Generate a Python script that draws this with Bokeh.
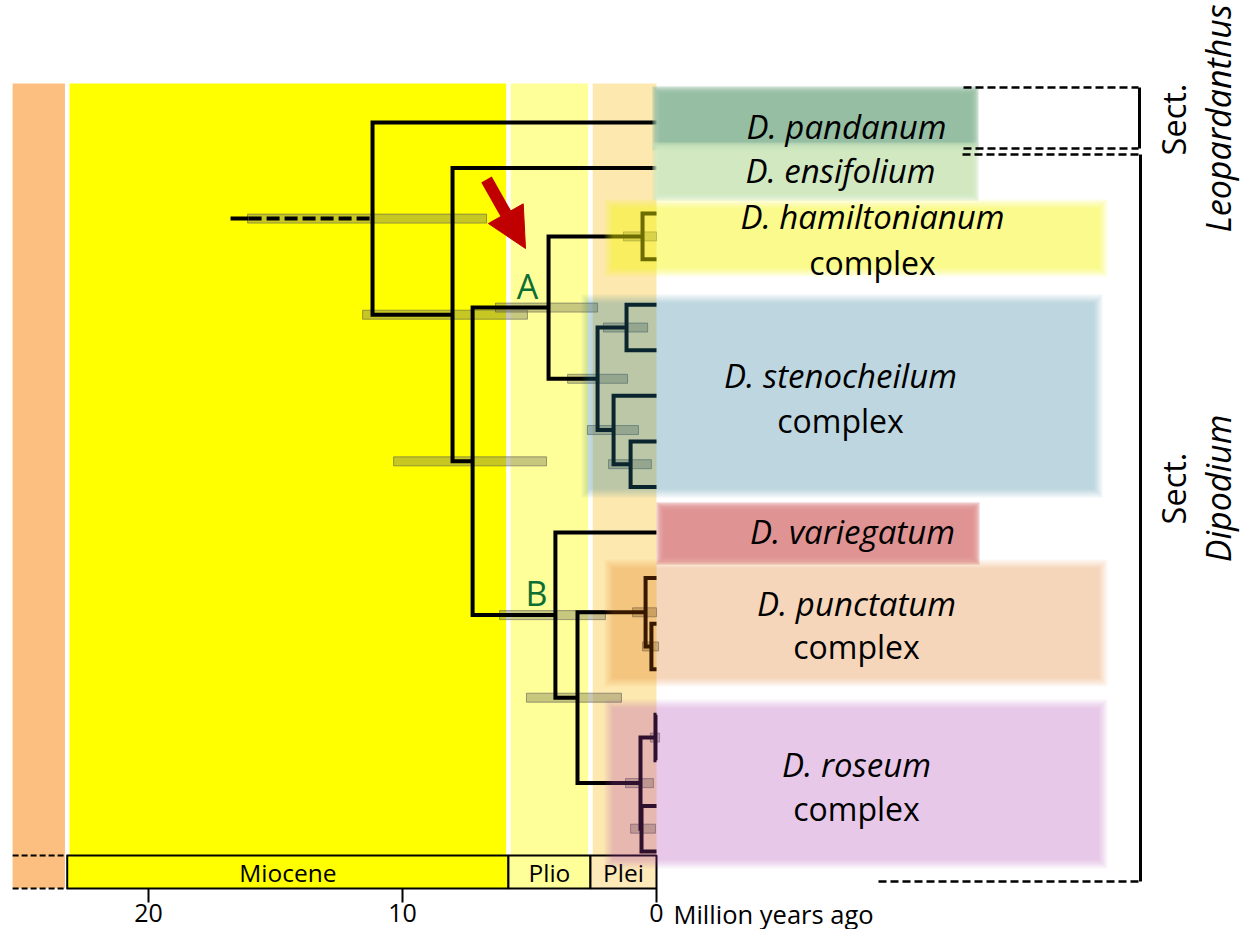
import math
import numpy as np
from bokeh.plotting import figure
from bokeh.models import Range1d, FixedTicker, Arrow, NormalHead, LinearAxis
from bokeh.core.properties import value
from bokeh.embed import file_html
from bokeh.resources import INLINE

# ---------------- data ----------------
epoch_names = ["Miocene", "Plio", "Plei"]
epoch_start = [23.2, 5.83, 2.6]      # Ma
epoch_end = [5.83, 2.6, 0.0]
oligocene_start = 25.35
axis_ticks = [0, 10, 20]

tip_names = ["pandanum", "ensifolium", "ham1", "ham2", "st1", "st2", "st3", "st4", "st5",
             "variegatum", "pu1", "pu2", "pu3", "ro1", "ro2", "ro3", "ro4"]
node_names = ["root", "N1", "N2", "A", "Ham", "Steno", "S1", "S2", "S3",
              "B", "PR", "Pu", "PuS", "Ro", "RoA", "RoB"]
node_children = [("pandanum", "N1"), ("ensifolium", "N2"), ("A", "B"), ("Ham", "Steno"),
                 ("ham1", "ham2"), ("S1", "S2"), ("st1", "st2"), ("st3", "S3"), ("st4", "st5"),
                 ("variegatum", "PR"), ("Pu", "Ro"), ("pu1", "PuS"), ("pu2", "pu3"),
                 ("RoA", "RoB"), ("ro1", "ro2"), ("ro3", "ro4")]
node_age = [11.18, 8.03, 7.24, 4.25, 0.55, 2.32, 1.18, 1.69, 1.02,
            3.98, 3.11, 0.43, 0.20, 0.63, 0.04, 0.59]
hpd_old = [16.10, 11.57, 10.35, 6.34, 1.30, 3.50, 2.09, 2.72, 1.89,
           6.18, 5.12, 0.94, 0.55, 1.22, 0.24, 1.02]
hpd_young = [6.69, 5.08, 4.33, 2.32, 0.0, 1.14, 0.35, 0.71, 0.20,
             2.01, 1.38, 0.0, -0.08, 0.12, -0.12, 0.04]
root_stem_age = 16.77
root_stem_solid_to = 16.06

clade_line1 = ["D. pandanum", "D. ensifolium", "D. hamiltonianum", "D. stenocheilum",
               "D. variegatum", "D. punctatum", "D. roseum"]
clade_line2 = ["", "", "complex", "complex", "", "complex", "complex"]
section_names = ["Leopardanthus", "Dipodium"]

# ---------------- layout helpers ----------------
X0, PXMA = 656.0, 25.4          # screen x of 0 Ma, px per Ma


def ma(X):
    return (X0 - X) / PXMA


FONT = value("Open Sans")
W, H = 1251, 929
p = figure(width=W, height=H, output_backend="svg", toolbar_location=None,
           x_range=Range1d(ma(0), ma(W)), y_range=Range1d(H, 0),
           x_axis_location=None, y_axis_location=None, min_border=0)
p.grid.visible = False
p.outline_line_color = None
p.background_fill_color = "white"
p.border_fill_color = "white"

ax = LinearAxis(fixed_location=888, ticker=FixedTicker(ticks=axis_ticks))
ax.axis_line_color = None
ax.major_tick_out = 14
ax.major_tick_in = 0
ax.major_tick_line_width = 2
ax.major_tick_line_color = "black"
ax.minor_tick_line_color = None
ax.major_label_standoff = 1
ax.major_label_text_font = "Open Sans"
ax.major_label_text_font_size = "25px"
ax.major_label_text_color = "black"
p.add_layout(ax, "below")

# ---------------- background bands ----------------
gap = 0.09
band_colors = ["#fdbf7f", "#ffff00", "#ffff99", "#fde9af"]
band_l = [oligocene_start] + [s - gap for s in epoch_start]
band_r = [epoch_start[0] + gap] + [e + gap for e in epoch_end[:-1]] + [epoch_end[-1]]
p.quad(left=band_l, right=band_r, top=83, bottom=888, fill_color=band_colors, line_color=None)

# epoch boxes
p.quad(left=epoch_start, right=epoch_end, top=855, bottom=888,
       fill_color=["#ffff00", "#ffff99", "#fdeab8"], line_color="black", line_width=2)
p.text(x=[(a + b) / 2 for a, b in zip(epoch_start, epoch_end)], y=[871.5] * 3, text=epoch_names,
       text_font=FONT, text_font_size="24.5px", text_align="center", text_baseline="middle",
       text_color="black")
p.multi_line(xs=[[oligocene_start, epoch_start[0]]] * 2, ys=[[855, 855], [888, 888]],
             line_color="black", line_width=2, line_dash="6 3")

# ---------------- tree ----------------
tip_y = {n: 122 + 45.56 * i for i, n in enumerate(tip_names)}
age = {n: 0.0 for n in tip_names}
age.update(dict(zip(node_names, node_age)))
kids = dict(zip(node_names, node_children))
ypos = dict(tip_y)


def gety(n):
    if n not in ypos:
        c1, c2 = kids[n]
        ypos[n] = (gety(c1) + gety(c2)) / 2
    return ypos[n]


for n in node_names:
    gety(n)

# HPD bars
p.quad(left=hpd_old, right=hpd_young, top=[ypos[n] - 4.5 for n in node_names],
       bottom=[ypos[n] + 4.5 for n in node_names], fill_color="#7a7a55", fill_alpha=0.42,
       line_color="#555555", line_alpha=0.55, line_width=1)

xs, ys = [], []
for n in node_names:
    c1, c2 = kids[n]
    xs.append([age[c1], age[n], age[n], age[c2]])
    ys.append([ypos[c1], ypos[c1], ypos[c2], ypos[c2]])
p.multi_line(xs=xs, ys=ys, line_color="black", line_width=4, line_join="miter")
ry = ypos["root"]
p.line([root_stem_age, root_stem_solid_to], [ry, ry], line_color="black", line_width=4)
p.line([root_stem_solid_to, age["root"]], [ry, ry], line_color="black", line_width=4,
       line_dash="13 5")

# ---------------- clade colour boxes (soft edges) ----------------
box_X = [(656, 974), (656, 974), (608, 1103), (585, 1098), (660, 975), (608, 1103), (608, 1103)]
box_Y = [(90, 146), (146, 196), (203, 272), (298, 493), (506, 560), (563, 682), (703, 864)]
box_col = ["#93bba0", "#d0e8be", "#faf800", "#2d81a1", "#e09091", "#df6400", "#af3caf"]
box_alpha = [0.97, 0.97, 0.44, 0.31, 0.97, 0.26, 0.27]

for (xa, xb), (ya, yb), c, A in zip(box_X, box_Y, box_col, box_alpha):
    n = 5
    b = 1 - (1 - A) ** (1.0 / n)
    for o in np.linspace(-4, 4, n):
        p.quad(left=ma(xa + o), right=ma(xb - o), top=ya + o, bottom=yb - o,
               fill_color=c, fill_alpha=b, line_color=None)

# clade labels
lab_X = [846, 840, 872, 840, 852, 856, 856]
lab_Y1 = [126, 170, 216, 375, 531, 603, 764]
lab_Y2 = [None, None, 262, 420, None, 646, 808]
p.text(x=[ma(x) for x in lab_X], y=lab_Y1, text=clade_line1, text_font=FONT,
       text_font_style="italic", text_font_size="33px", text_align="center",
       text_baseline="middle", text_color="black")
l2 = [(ma(x), y, t) for x, y, t in zip(lab_X, lab_Y2, clade_line2) if t]
p.text(x=[a for a, _, _ in l2], y=[b for _, b, _ in l2], text=[t for _, _, t in l2],
       text_font=FONT, text_font_size="32px", text_align="center", text_baseline="middle",
       text_color="black")

# node labels A and B
p.text(x=[ma(527), ma(536)], y=[285, 592], text=["A", "B"], text_font=FONT,
       text_font_size="34px", text_align="center", text_baseline="middle",
       text_color="#0b6e33")

# red arrow
p.add_layout(Arrow(x_start=ma(486), y_start=179, x_end=ma(525), y_end=248,
                   line_color="#c00000", line_width=12,
                   end=NormalHead(size=40, fill_color="#c00000", line_color="#c00000")))

# ---------------- section brackets ----------------
dash_x = [[ma(963), ma(1138)], [ma(963), ma(1138)], [ma(962), ma(1138)], [ma(878), ma(1140)]]
dash_y = [[87, 87], [148, 148], [154, 154], [881, 881]]
p.multi_line(xs=dash_x, ys=dash_y, line_color="black", line_width=2.5, line_dash="8 4")
p.multi_line(xs=[[ma(1139), ma(1139)], [ma(1140), ma(1140)]], ys=[[87, 148], [154, 881]],
             line_color="black", line_width=3)

p.text(x=[ma(1173), ma(1173)], y=[119, 488], text=["Sect.", "Sect."], angle=math.pi / 2,
       text_font=FONT, text_font_size="32.5px", text_align="center", text_baseline="middle",
       text_color="black")
p.text(x=[ma(1217), ma(1217)], y=[118, 488], text=section_names, angle=math.pi / 2,
       text_font=FONT, text_font_style="italic", text_font_size="34px", text_align="center",
       text_baseline="middle", text_color="black")

# axis caption
p.text(x=[0], y=[913], x_offset=17, text=["Million years ago"], text_font=FONT,
       text_font_size="25.5px", text_align="left", text_baseline="middle", text_color="black")

open("out.html", "w").write(file_html(p, INLINE))
